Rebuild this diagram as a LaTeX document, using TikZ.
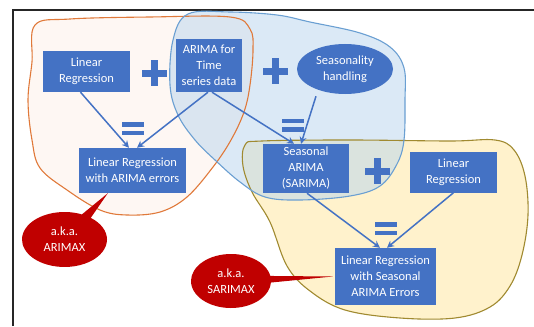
\documentclass[tikz,border=0pt]{standalone}
\usepackage{fontspec}
\setmainfont{Carlito}
\usetikzlibrary{shapes.geometric,shapes.callouts,arrows.meta,calc}

\definecolor{boxblue}{HTML}{4472C4}
\definecolor{akared}{HTML}{C00000}
\definecolor{orangeline}{HTML}{E0793A}
\definecolor{orangefill}{HTML}{FBE5D6}
\definecolor{blueline}{HTML}{6A9FD2}
\definecolor{bluefill}{HTML}{BDD7EE}
\definecolor{goldline}{HTML}{A08A30}
\definecolor{goldfill}{HTML}{FFF2CC}

\tikzset{
  model/.style={rectangle, fill=boxblue, text=white, align=center,
    font=\fontsize{12.5}{16}\selectfont, inner sep=1pt},
  flow/.style={draw=boxblue, line width=1.5pt, -{Stealth[length=7pt,width=7pt]}},
  aka/.style={ellipse callout, fill=akared, text=white, align=center,
    font=\fontsize{12.5}{16}\selectfont, inner sep=1pt, callout pointer arc=14},
  plussign/.pic={
    \fill[boxblue] (-12.5,-3.5) rectangle (12.5,3.5);
    \fill[boxblue] (-3.5,-13) rectangle (3.5,13);
  },
  eqsign/.pic={
    \fill[boxblue] (-11,-6.5) rectangle (11,-2);
    \fill[boxblue] (-11,2) rectangle (11,6.5);
  }
}

\begin{document}
\begin{tikzpicture}[x=1pt,y=-1pt]
  \useasboundingbox (0,0) rectangle (534,326);

  % Frame
  \draw[line width=2pt,black!85] (13,326)--(13,10)--(534,10);

  % Blobs
  \fill[goldfill] plot[smooth cycle,tension=0.6] coordinates {
    (245,145) (262,141) (350,140) (450,141) (495,140) (514,150) (525,176)
    (528,215) (522,255) (510,286) (490,307) (455,318) (400,318) (345,310)
    (310,291) (287,266) (270,222) (252,192) (243,166)};
  \fill[orangefill,fill opacity=0.3] plot[smooth cycle,tension=0.6] coordinates {
    (35,25) (70,19) (150,17) (230,17) (250,29) (253,50) (250,85) (244,112)
    (231,140) (213,167) (187,197) (160,212) (127,215) (100,210) (67,190)
    (40,168) (32,140) (28,100) (32,62)};
  \fill[bluefill,fill opacity=0.55] plot[smooth cycle,tension=0.6] coordinates {
    (188,14) (230,12) (277,15) (310,22) (360,33) (390,47) (404,68) (405,100)
    (404,140) (397,164) (380,186) (350,196) (300,200) (265,197) (240,182)
    (215,160) (195,140) (178,115) (170,85) (173,40)};
  \draw[goldline,line width=1.1pt] plot[smooth cycle,tension=0.6] coordinates {
    (245,145) (262,141) (350,140) (450,141) (495,140) (514,150) (525,176)
    (528,215) (522,255) (510,286) (490,307) (455,318) (400,318) (345,310)
    (310,291) (287,266) (270,222) (252,192) (243,166)};
  \draw[orangeline,line width=1.1pt] plot[smooth cycle,tension=0.6] coordinates {
    (35,25) (70,19) (150,17) (230,17) (250,29) (253,50) (250,85) (244,112)
    (231,140) (213,167) (187,197) (160,212) (127,215) (100,210) (67,190)
    (40,168) (32,140) (28,100) (32,62)};
  \draw[blueline,line width=1.1pt] plot[smooth cycle,tension=0.6] coordinates {
    (188,14) (230,12) (277,15) (310,22) (360,33) (390,47) (404,68) (405,100)
    (404,140) (397,164) (380,186) (350,196) (300,200) (265,197) (240,182)
    (215,160) (195,140) (178,115) (170,85) (173,40)};

  % Models
  \node[model,minimum width=87pt,minimum height=41pt] (lr1) at (86.5,71.5) {Linear\\Regression};
  \node[model,minimum width=66pt,minimum height=53pt] (arima) at (209,65.5) {ARIMA for\\Time\\series data};
  \node[model,ellipse,minimum width=96pt,minimum height=50pt] (seas) at (345,69) {Seasonality\\handling};
  \node[model,minimum width=107pt,minimum height=45pt] (lrae) at (132.5,170.5) {Linear Regression\\with ARIMA errors};
  \node[model,minimum width=86pt,minimum height=49pt] (sarima) at (306,168.5) {Seasonal\\ARIMA\\(SARIMA)};
  \node[model,minimum width=87pt,minimum height=41pt] (lr2) at (453.5,172) {Linear\\Regression};
  \node[model,minimum width=101pt,minimum height=57pt] (lrsae) at (385.5,276.5) {Linear Regression\\with Seasonal\\ARIMA Errors};

  % Signs
  \pic at (154.5,73.5) {plussign};
  \pic at (275.5,71.5) {plussign};
  \pic at (377,171) {plussign};
  \pic at (133,128.5) {eqsign};
  \pic at (292.5,125) {eqsign};
  \pic at (386,228.5) {eqsign};

  % Arrows
  \draw[flow] ($(lr1.south)+(-6,0)$) -- ($(lrae.north)+(-3.5,0)$);
  \draw[flow] ($(arima.south)+(-1,0)$) -- ($(lrae.north)+(4.5,0)$);
  \draw[flow] ($(arima.south)+(3,0)$) -- ($(sarima.north)+(-12,0)$);
  \draw[flow] ($(seas.south)+(-29,2)$) -- ($(sarima.north)+(-5,0)$);
  \draw[flow] ($(sarima.south)+(1,0)$) -- ($(lrsae.north)+(-5.5,0)$);
  \draw[flow] (lr2.south) -- ($(lrsae.north)+(1.5,0)$);

  % Callouts
  \node[aka,minimum width=85pt,minimum height=55pt,
    callout absolute pointer={($(lrae.south west)!0.27!(lrae.south east)$)}]
    (arimax) at (64.5,239.5) {a.k.a.\\ARIMAX};
  \node[aka,minimum width=80pt,minimum height=54pt,
    callout absolute pointer={($(lrsae.west)+(-2,0)$)}]
    (sarimax) at (231,281) {a.k.a.\\SARIMAX};

\end{tikzpicture}
\end{document}
